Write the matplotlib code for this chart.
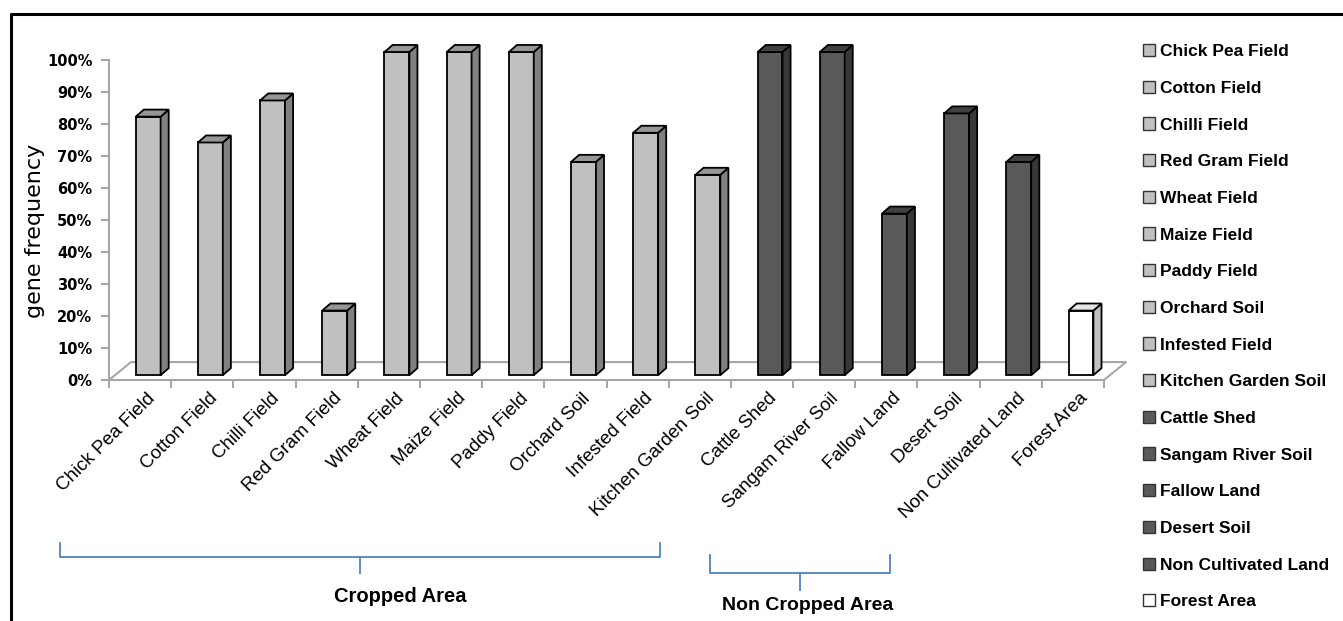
import matplotlib.pyplot as plt
from matplotlib.patches import Polygon, Patch
from matplotlib.lines import Line2D

categories = ['Chick Pea Field', 'Cotton Field', 'Chilli Field', 'Red Gram Field',
              'Wheat Field', 'Maize Field', 'Paddy Field', 'Orchard Soil',
              'Infested Field', 'Kitchen Garden Soil', 'Cattle Shed',
              'Sangam River Soil', 'Fallow Land', 'Desert Soil',
              'Non Cultivated Land', 'Forest Area']
values = [80, 72, 85, 20, 100, 100, 100, 66, 75, 62, 100, 100, 50, 81, 66, 20]
groups = ['crop'] * 10 + ['noncrop'] * 5 + ['forest']
yticks = list(range(0, 101, 10))

# face, side, top colours per group
colors = {
    'crop': ('#c0c0c0', '#808080', '#969696'),
    'noncrop': ('#595959', '#383838', '#404040'),
    'forest': ('#ffffff', '#c0c0c0', '#e6e6e6'),
}

label_font = ['Liberation Sans Narrow', 'Liberation Sans', 'DejaVu Sans']

fig = plt.figure(figsize=(13.43, 6.21), dpi=100)
W, H = 1343, 621
ax = fig.add_axes([109 / W, 1 - 380 / H, (1104 - 109) / W, 352 / H])
ax.set_xlim(-0.5, 15.5)
ax.set_ylim(0, 110)

# pseudo 3d settings (data units)
bw = 0.40
off = 0.13
dx, dy = 0.13, 2.2
base = 1.5
scale = 1.01
fdx, fdy = 0.354, 5.6

# floor
gray = '#a6a6a6'
ax.plot([-0.5, -0.5 + fdx, 15.5 + fdx, 15.5], [0, fdy, fdy, 0],
        color=gray, lw=1.5, clip_on=False, zorder=1)

for i, (v, g) in enumerate(zip(values, groups)):
    face, side, top = colors[g]
    h = v * scale
    ax.bar(i + off, h, width=bw, bottom=base, color=face, edgecolor='black',
           linewidth=1.3, zorder=3)
    x0 = i + off - bw / 2
    x1 = i + off + bw / 2
    y1 = base + h
    ax.add_patch(Polygon([(x1, base), (x1 + dx, base + dy), (x1 + dx, y1 + dy), (x1, y1)],
                         closed=True, facecolor=side, edgecolor='black', lw=1.3,
                         zorder=3, clip_on=False))
    ax.add_patch(Polygon([(x0, y1), (x0 + dx, y1 + dy), (x1 + dx, y1 + dy), (x1, y1)],
                         closed=True, facecolor=top, edgecolor='black', lw=1.3,
                         zorder=3, clip_on=False))

for s in ['top', 'right']:
    ax.spines[s].set_visible(False)
ax.spines['left'].set_bounds(0, 100)
ax.spines['bottom'].set_bounds(-0.5, 15.5)
for s in ['left', 'bottom']:
    ax.spines[s].set_color(gray)
    ax.spines[s].set_linewidth(1.5)

ax.set_yticks(yticks)
ax.set_yticklabels([f'{t}%' for t in yticks], fontweight='bold', fontsize=10.5)
ax.tick_params(axis='y', length=6, color=gray, width=1.5, pad=6)

ax.set_xticks([i + 0.1 for i in range(len(categories))])
ax.set_xticklabels(categories, rotation=45, ha='right', va='top',
                   rotation_mode='anchor', fontsize=13.5, family=label_font)
ax.tick_params(axis='x', which='major', length=0, pad=7)
ax.set_xticks([i - 0.5 for i in range(len(categories) + 1)], minor=True)
ax.tick_params(axis='x', which='minor', length=6, color=gray, width=1.5)

fig.text(35 / W, 1 - 231 / H, 'gene frequency', rotation=90, ha='center',
         va='center', fontsize=16)

# legend
handles = [Patch(facecolor=colors[g][0], edgecolor='#333333', label=c)
           for c, g in zip(categories, groups)]
fig.legend(handles=handles, loc='upper left', bbox_to_anchor=(1143 / W, 1 - 44 / H),
           frameon=False, prop={'family': label_font, 'weight': 'bold', 'size': 12.5},
           handlelength=0.7, handleheight=0.7, handletextpad=0.3,
           labelspacing=1.24, borderpad=0, borderaxespad=0)

# group brackets
blue = '#4f81bd'
def fx(px):
    return px / W
def fy(py):
    return 1 - py / H

def bracket(x0, x1, ytop, ybar, xs, ystem):
    fig.add_artist(Line2D([fx(x0), fx(x0), fx(x1), fx(x1)],
                          [fy(ytop), fy(ybar), fy(ybar), fy(ytop)], color=blue, lw=1.3))
    fig.add_artist(Line2D([fx(xs), fx(xs)], [fy(ybar), fy(ystem)], color=blue, lw=1.3))

bracket(60, 660, 543, 557, 360, 573)
bracket(710, 890, 555, 573, 800, 590)
fig.text(fx(400), fy(596), 'Cropped Area', ha='center', va='center',
         fontsize=14.5, fontweight='bold', family=label_font)
fig.text(fx(808), fy(606), 'Non Cropped Area', ha='center', va='center',
         fontsize=14, fontweight='bold', family=label_font)

# frame
fig.add_artist(Line2D([fx(11), fx(11), fx(1343)], [fy(621), fy(14), fy(14)],
                      color='black', lw=2.2))

fig.savefig('out.png', dpi=100)
